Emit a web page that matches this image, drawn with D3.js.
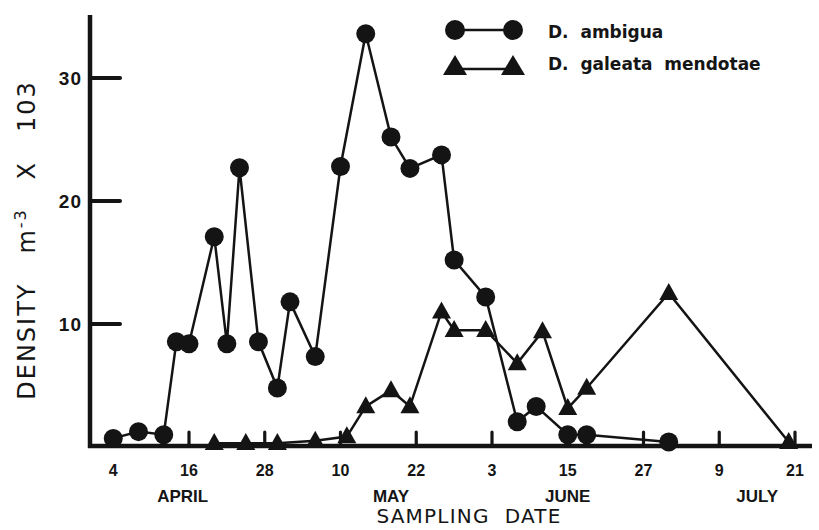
<!DOCTYPE html>
<html>
<head>
<meta charset="utf-8">
<script src="https://cdn.jsdelivr.net/npm/d3@7"></script>
<style>
  body { margin: 0; background: #fff; }
  text { fill: #151515; white-space: pre; }
</style>
</head>
<body>
<div id="chart"></div>
<script>
// data (density, m-3 x 10^3)
const ambiguaDates = ["1977-04-04", "1977-04-08", "1977-04-12", "1977-04-14", "1977-04-16", "1977-04-20",
  "1977-04-22", "1977-04-24", "1977-04-27", "1977-04-30", "1977-05-02", "1977-05-06", "1977-05-10",
  "1977-05-14", "1977-05-18", "1977-05-21", "1977-05-26", "1977-05-28", "1977-06-02", "1977-06-07",
  "1977-06-10", "1977-06-15", "1977-06-18", "1977-07-01"];
const ambiguaValues = [0.7, 1.25, 1.0, 8.55, 8.4, 17.1, 8.4, 22.7, 8.55, 4.8, 11.8, 7.35, 22.8,
  33.6, 25.2, 22.65, 23.75, 15.2, 12.2, 2.05, 3.3, 1.0, 1.0, 0.4];

const galeataDates = ["1977-04-20", "1977-04-25", "1977-04-30", "1977-05-06", "1977-05-11", "1977-05-14",
  "1977-05-18", "1977-05-21", "1977-05-26", "1977-05-28", "1977-06-02", "1977-06-07", "1977-06-11",
  "1977-06-15", "1977-06-18", "1977-07-01", "1977-07-20"];
const galeataValues = [0.3, 0.3, 0.3, 0.5, 0.85, 3.3, 4.6, 3.3, 11.0, 9.5, 9.5, 6.8, 9.4,
  3.15, 4.8, 12.5, 0.4];

const tickDates = ["1977-04-04", "1977-04-16", "1977-04-28", "1977-05-10", "1977-05-22", "1977-06-03",
  "1977-06-15", "1977-06-27", "1977-07-09", "1977-07-21"];
const tickLabels = ["4", "16", "28", "10", "22", "3", "15", "27", "9", "21"];
const monthNames = ["APRIL", "MAY", "JUNE", "JULY"];
const monthDates = ["1977-04-15", "1977-05-18", "1977-06-15", "1977-07-15"];
const yTicks = [10, 20, 30];

const W = 819, H = 530;
const parse = d3.timeParse("%Y-%m-%d");

let svg = d3.select('#chart')
  .append('svg')
  .attr('width', W)
  .attr('height', H)
  .style('font-family', '"Liberation Sans", Arial, sans-serif');

const x = d3.scaleTime()
  .domain([parse("1977-04-04"), parse("1977-07-21")])
  .range([113.25, 795]);

const y = d3.scaleLinear()
  .domain([0, 35])
  .range([447, 16.5]);

const ink = '#141414';
const axisX = 90, baseY = 446;

// y axis line + inward ticks
svg.append('line')
  .attr('x1', axisX).attr('x2', axisX)
  .attr('y1', 15).attr('y2', baseY + 2)
  .attr('stroke', ink).attr('stroke-width', 4.5);

svg.selectAll('.ytick')
  .data(yTicks)
  .join('line')
  .attr('class', 'ytick')
  .attr('x1', axisX).attr('x2', 120)
  .attr('y1', d => y(d)).attr('y2', d => y(d))
  .attr('stroke', ink).attr('stroke-width', 4)
  .attr('stroke-linecap', 'round');

svg.selectAll('.ylab')
  .data(yTicks)
  .join('text')
  .attr('class', 'ylab')
  .attr('x', 82)
  .attr('y', d => y(d) + 7)
  .attr('text-anchor', 'end')
  .attr('font-size', 19)
  .attr('font-weight', 'bold')
  .attr('letter-spacing', 1)
  .text(d => d);

// y title
svg.append('text')
  .attr('transform', 'translate(35,240) rotate(-90)')
  .attr('text-anchor', 'middle')
  .attr('font-size', 24)
  .attr('letter-spacing', 2)
  .attr('font-family', '"DejaVu Sans", sans-serif')
  .call(t => {
    t.append('tspan').text('DENSITY   m');
    t.append('tspan').attr('dy', -9).attr('font-size', 16).text('-3');
    t.append('tspan').attr('dy', 9).text('   X   103');
  });

// x baseline + small upward ticks
svg.append('line')
  .attr('x1', axisX - 2).attr('x2', 812)
  .attr('y1', baseY).attr('y2', baseY)
  .attr('stroke', ink).attr('stroke-width', 4.5);

const td = tickDates.map(parse);
svg.selectAll('.xtick')
  .data(td)
  .join('line')
  .attr('class', 'xtick')
  .attr('x1', d => x(d)).attr('x2', d => x(d))
  .attr('y1', baseY).attr('y2', baseY - 14)
  .attr('stroke', ink).attr('stroke-width', 3.2)
  .attr('stroke-linecap', 'round');

svg.selectAll('.xlab')
  .data(td)
  .join('text')
  .attr('class', 'xlab')
  .attr('x', d => x(d))
  .attr('y', 476)
  .attr('text-anchor', 'middle')
  .attr('font-size', 16)
  .attr('font-weight', 'bold')
  .text((d, i) => tickLabels[i]);

svg.selectAll('.month')
  .data(monthDates.map(parse))
  .join('text')
  .attr('class', 'month')
  .attr('x', d => x(d))
  .attr('y', 502)
  .attr('text-anchor', 'middle')
  .attr('font-size', 17)
  .attr('font-weight', 'bold')
  .text((d, i) => monthNames[i]);

svg.append('text')
  .attr('x', 469)
  .attr('y', 523)
  .attr('text-anchor', 'middle')
  .attr('font-size', 20)
  .attr('font-family', '"DejaVu Sans", sans-serif')
  .attr('letter-spacing', 1.2)
  .text('SAMPLING  DATE');

// series
const ambigua = ambiguaDates.map((d, i) => ({date: parse(d), value: ambiguaValues[i]}));
const galeata = galeataDates.map((d, i) => ({date: parse(d), value: galeataValues[i]}));

const line = d3.line()
  .x(d => x(d.date))
  .y(d => y(d.value));

const tri = (w, h) => `M0,${-h * 0.6}L${w / 2},${h * 0.4}L${-w / 2},${h * 0.4}Z`;

svg.append('path')
  .datum(galeata)
  .attr('d', line)
  .attr('fill', 'none')
  .attr('stroke', ink)
  .attr('stroke-width', 2.5);

svg.selectAll('.tri')
  .data(galeata)
  .join('path')
  .attr('class', 'tri')
  .attr('transform', d => `translate(${x(d.date)},${y(d.value)})`)
  .attr('d', tri(19, 17))
  .attr('fill', ink);

svg.append('path')
  .datum(ambigua)
  .attr('d', line)
  .attr('fill', 'none')
  .attr('stroke', ink)
  .attr('stroke-width', 2.5);

svg.selectAll('.dot')
  .data(ambigua)
  .join('circle')
  .attr('class', 'dot')
  .attr('cx', d => x(d.date))
  .attr('cy', d => y(d.value))
  .attr('r', 9.5)
  .attr('fill', ink);

// legend
let legend = svg.append('g');
legend.append('line')
  .attr('x1', 455).attr('x2', 513).attr('y1', 30).attr('y2', 30)
  .attr('stroke', ink).attr('stroke-width', 2.5);
legend.selectAll('circle')
  .data([455, 513])
  .join('circle')
  .attr('cx', d => d).attr('cy', 30).attr('r', 10)
  .attr('fill', ink);
legend.append('line')
  .attr('x1', 455).attr('x2', 513).attr('y1', 69).attr('y2', 69)
  .attr('stroke', ink).attr('stroke-width', 2.5);
legend.selectAll('path')
  .data([455, 513])
  .join('path')
  .attr('transform', d => `translate(${d},67)`)
  .attr('d', tri(24, 20))
  .attr('fill', ink);

legend.append('text')
  .attr('x', 548).attr('y', 38)
  .attr('font-size', 17)
  .attr('font-weight', 'bold')
  .attr('font-family', '"DejaVu Sans", sans-serif')
  .text('D.  ambigua');
legend.append('text')
  .attr('x', 548).attr('y', 70)
  .attr('font-size', 17)
  .attr('font-weight', 'bold')
  .attr('font-family', '"DejaVu Sans", sans-serif')
  .text('D.  galeata  mendotae');
</script>
</body>
</html>
